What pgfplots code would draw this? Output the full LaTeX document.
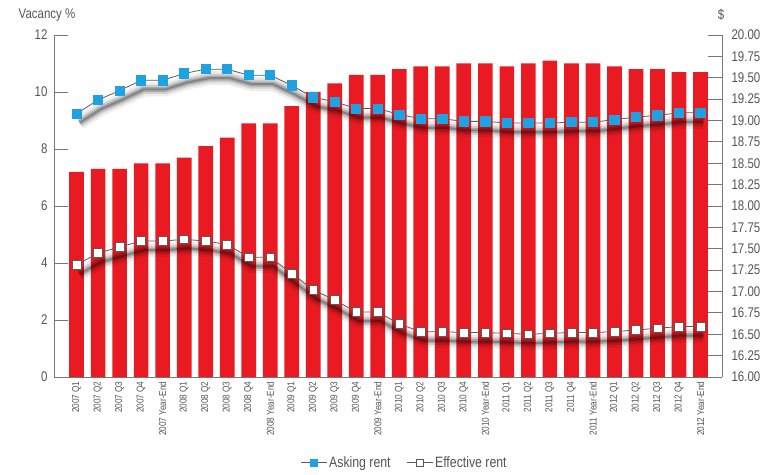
\documentclass[border=0pt]{standalone}
\usepackage{fontspec}
\setmainfont{Liberation Sans}[FakeStretch=0.82]
\usepackage{pgfplots}
\usepackage{pgfplotstable}
\pgfplotsset{compat=1.18}
\definecolor{barred}{RGB}{234,26,34}
\definecolor{askblue}{RGB}{30,162,226}
\definecolor{txtgray}{RGB}{85,85,85}
\definecolor{axgray}{RGB}{120,120,120}
\definecolor{lngray}{RGB}{90,90,90}

\pgfplotstableread{
idx vac ask eff
0 7.2 19.08 17.31
1 7.3 19.24 17.45
2 7.3 19.35 17.52
3 7.5 19.47 17.59
4 7.5 19.47 17.59
5 7.7 19.55 17.61
6 8.1 19.60 17.59
7 8.4 19.60 17.55
8 8.9 19.53 17.40
9 8.9 19.53 17.40
10 9.5 19.41 17.21
11 10.0 19.27 17.02
12 10.3 19.22 16.90
13 10.6 19.14 16.76
14 10.6 19.14 16.76
15 10.8 19.07 16.62
16 10.9 19.02 16.53
17 10.9 19.02 16.53
18 11.0 18.99 16.52
19 11.0 18.99 16.52
20 10.9 18.97 16.51
21 11.0 18.97 16.50
22 11.1 18.97 16.51
23 11.0 18.98 16.52
24 11.0 18.98 16.52
25 10.9 19.01 16.53
26 10.8 19.04 16.55
27 10.8 19.06 16.57
28 10.7 19.09 16.59
29 10.7 19.09 16.59
}\datatable

\pgfplotsset{
  shadowA/.style={draw=black, line width=14pt, opacity=0.07, xshift=3pt, yshift=-9pt, forget plot},
  shadowB/.style={draw=black, line width=9pt, opacity=0.12, xshift=3pt, yshift=-9pt, forget plot},
  shadowC/.style={draw=black, line width=5pt, opacity=0.18, xshift=3pt, yshift=-9pt, forget plot},
  shadowD/.style={draw=black, line width=2pt, opacity=0.22, xshift=3pt, yshift=-9pt, forget plot},
}

\begin{document}
\begin{tikzpicture}
\useasboundingbox (-54pt,-97pt) rectangle (724pt,377pt);
\begin{axis}[
  at={(0,0)}, anchor=south west,
  scale only axis, width=668pt, height=342pt,
  xmin=-1.05, xmax=30, ymin=0, ymax=12,
  axis y line*=left, axis x line*=bottom,
  axis line style={axgray, -, line width=0.8pt},
  ytick={0,2,4,6,8,10,12},
  xtick={0,...,29},
  xticklabels={2007 Q1,2007 Q2,2007 Q3,2007 Q4,2007 Year-End,
    2008 Q1,2008 Q2,2008 Q3,2008 Q4,2008 Year-End,
    2009 Q1,2009 Q2,2009 Q3,2009 Q4,2009 Year-End,
    2010 Q1,2010 Q2,2010 Q3,2010 Q4,2010 Year-End,
    2011 Q1,2011 Q2,2011 Q3,2011 Q4,2011 Year-End,
    2012 Q1,2012 Q2,2012 Q3,2012 Q4,2012 Year-End},
  x tick label style={rotate=90, anchor=east, font=\fontsize{10}{11}\selectfont, text=txtgray, xshift=-1pt},
  y tick label style={font=\fontsize{14}{16}\selectfont, text=txtgray, xshift=-3pt},
  /pgf/number format/assume math mode=true,
  tick align=inside, major tick length=14pt,
  xtick style={draw=none},
  ytick style={axgray, line width=0.8pt},
  clip=false,
]
\addplot[ybar, bar width=14.7pt, fill=barred, draw=none] table[x=idx, y=vac] {\datatable};
\node[font=\fontsize{14}{16}\selectfont, text=txtgray] at (rel axis cs:0,1) [xshift=-7pt, yshift=20pt] {Vacancy \%};
\end{axis}
\begin{axis}[
  at={(0,0)}, anchor=south west,
  scale only axis, width=668pt, height=342pt,
  xmin=-1.05, xmax=30, ymin=16, ymax=20,
  axis y line*=right, axis x line=none,
  axis line style={axgray, -, line width=0.8pt},
  ytick={16,16.25,16.5,16.75,17,17.25,17.5,17.75,18,18.25,18.5,18.75,19,19.25,19.5,19.75,20},
  yticklabel style={/pgf/number format/.cd, fixed, fixed zerofill, precision=2, /tikz/.cd, font=\fontsize{14}{16}\selectfont, text=txtgray, xshift=6pt},
  /pgf/number format/assume math mode=true,
  tick align=inside, major tick length=14pt,
  ytick style={axgray, line width=0.8pt},
  clip=false,
  legend style={at={(0.525,-0.251)}, anchor=center, draw=none, fill=none,
    legend columns=2, font=\fontsize{15}{17}\selectfont, text=txtgray,
    /tikz/every even column/.append style={column sep=14pt}},
  legend image code/.code={
    \draw[#1, mark repeat=2, mark phase=2, mark size=3.3pt] plot coordinates {(0cm,0cm) (0.45cm,0cm) (0.9cm,0cm)};},
]
% shadows
\addplot[shadowA] table[x=idx, y=ask] {\datatable};
\addplot[shadowB] table[x=idx, y=ask] {\datatable};
\addplot[shadowC] table[x=idx, y=ask] {\datatable};
\addplot[shadowD] table[x=idx, y=ask] {\datatable};
\addplot[shadowA] table[x=idx, y=eff] {\datatable};
\addplot[shadowB] table[x=idx, y=eff] {\datatable};
\addplot[shadowC] table[x=idx, y=eff] {\datatable};
\addplot[shadowD] table[x=idx, y=eff] {\datatable};
\addplot[draw=lngray, line width=0.8pt, mark=square*, mark size=4.6pt, mark options={fill=askblue, draw=askblue}] table[x=idx, y=ask] {\datatable};
\addlegendentry{Asking rent}
\addplot[draw=lngray, line width=0.8pt, mark=square*, mark size=4.4pt, mark options={fill=white, draw=lngray, line width=0.6pt}] table[x=idx, y=eff] {\datatable};
\addlegendentry{Effective rent}
\node[font=\fontsize{14}{16}\selectfont, text=txtgray] at (rel axis cs:1,1) [xshift=-1pt, yshift=20pt] {\$};
\end{axis}
\end{tikzpicture}
\end{document}
